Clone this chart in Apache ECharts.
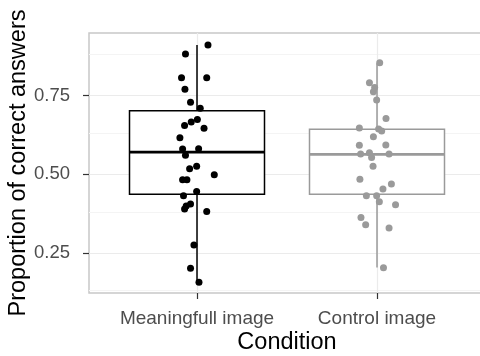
<!DOCTYPE html>
<html>
<head>
<meta charset="utf-8">
<script src="https://cdn.jsdelivr.net/npm/echarts@6/dist/echarts.min.js"></script>
<style>html,body{margin:0;padding:0;background:#fff}#c{width:480px;height:356px}</style>
</head>
<body>
<div id="c"></div>
<script>
var categories = ['Meaningfull image', 'Control image'];
var yTicks = [0.25, 0.5, 0.75];
var yMinor = [0.125, 0.375, 0.625, 0.875];

// jittered points: x position (category index 1/2 plus jitter), y value
var meaningX = [1.061, 0.936, 0.914, 1.054, 0.933, 0.964, 1.018, 1.002, 0.968, 0.931, 1.039, 0.905, 0.920, 1.009, 0.936, 0.998, 0.959, 0.920, 0.944, 1.096, 0.998, 0.925, 0.964, 0.940, 0.931, 1.054, 0.983, 0.964, 1.011];
var meaningY = [0.911, 0.882, 0.807, 0.807, 0.770, 0.729, 0.710, 0.674, 0.666, 0.655, 0.646, 0.616, 0.580, 0.581, 0.560, 0.525, 0.517, 0.482, 0.482, 0.498, 0.445, 0.431, 0.405, 0.399, 0.389, 0.381, 0.275, 0.201, 0.156];
var controlX = [2.015, 1.958, 1.987, 1.980, 1.998, 2.050, 1.902, 2.009, 2.026, 1.980, 1.902, 2.049, 1.909, 1.958, 1.970, 2.067, 1.978, 1.905, 2.080, 2.033, 1.941, 1.998, 2.013, 2.103, 1.911, 1.937, 2.067, 2.036];
var controlY = [0.854, 0.791, 0.776, 0.762, 0.736, 0.677, 0.647, 0.644, 0.637, 0.619, 0.592, 0.593, 0.564, 0.568, 0.553, 0.564, 0.525, 0.484, 0.469, 0.453, 0.431, 0.431, 0.412, 0.403, 0.362, 0.339, 0.329, 0.202];

// box stats: [lower whisker, Q1, median, Q3, upper whisker]
var meaningBox = [0.156, 0.436, 0.570, 0.702, 0.911];
var controlBox = [0.203, 0.436, 0.563, 0.643, 0.853];

var colors = ['#000000', '#9a9a9a'];

function zip(xs, ys) { return xs.map(function (x, i) { return [x, ys[i]]; }); }

var chart = echarts.init(document.getElementById('c'), null, {renderer: 'canvas'});
var font = 'Liberation Sans, Arial, Helvetica, sans-serif';

var boxData = [[1].concat(meaningBox).concat([0]), [2].concat(controlBox).concat([1])];

function renderBox(params, api) {
  var x = api.value(0), lo = api.value(1), q1 = api.value(2), med = api.value(3), q3 = api.value(4), hi = api.value(5);
  var col = colors[api.value(6)];
  var hw = 0.375;
  var pTL = api.coord([x - hw, q3]);
  var pBR = api.coord([x + hw, q1]);
  var pHi = api.coord([x, hi]);
  var pQ3 = api.coord([x, q3]);
  var pQ1 = api.coord([x, q1]);
  var pLo = api.coord([x, lo]);
  var pML = api.coord([x - hw, med]);
  var pMR = api.coord([x + hw, med]);
  return {
    type: 'group',
    children: [
      {type: 'line', shape: {x1: pHi[0], y1: pHi[1], x2: pQ3[0], y2: pQ3[1]}, style: {stroke: col, lineWidth: 1.5}},
      {type: 'line', shape: {x1: pQ1[0], y1: pQ1[1], x2: pLo[0], y2: pLo[1]}, style: {stroke: col, lineWidth: 1.5}},
      {type: 'rect', shape: {x: pTL[0], y: pTL[1], width: pBR[0] - pTL[0], height: pBR[1] - pTL[1]}, style: {fill: '#fff', stroke: col, lineWidth: 1.5}},
      {type: 'line', shape: {x1: pML[0], y1: pML[1], x2: pMR[0], y2: pMR[1]}, style: {stroke: col, lineWidth: 2.8}}
    ]
  };
}

var gridLines = [];
yMinor.forEach(function (v) { gridLines.push({yAxis: v, lineStyle: {color: '#f4f4f4', width: 1, type: 'solid'}}); });
yTicks.forEach(function (v) { gridLines.push({yAxis: v, lineStyle: {color: '#ebebeb', width: 1.2, type: 'solid'}}); });
[1, 2].forEach(function (v) { gridLines.push({xAxis: v, lineStyle: {color: '#ebebeb', width: 1.2, type: 'solid'}}); });

chart.setOption({
  animation: false,
  backgroundColor: '#fff',
  grid: {left: 89, right: -5, top: 33, bottom: 63, containLabel: false, outerBoundsMode: 'none',
    show: true, borderColor: '#c8c8c8', borderWidth: 1.5, backgroundColor: 'transparent'},
  xAxis: {
    type: 'value', min: 0.4, max: 2.6,
    name: 'Condition', nameLocation: 'middle', nameGap: 38, nameMoveOverlap: false,
    nameTextStyle: {fontFamily: font, fontSize: 23.5, color: '#000'},
    axisLine: {show: false},
    splitLine: {show: false},
    axisTick: {show: true, customValues: [1, 2], length: 6, lineStyle: {color: '#333', width: 1.2}},
    axisLabel: {customValues: [1, 2], margin: 16, fontFamily: font, fontSize: 19, color: '#4d4d4d',
      formatter: function (v) { return categories[Math.round(v) - 1]; }}
  },
  yAxis: {
    type: 'value', min: 0.122, max: 0.949,
    name: 'Proportion of correct answers', nameLocation: 'middle', nameGap: 58, nameMoveOverlap: false,
    nameTextStyle: {fontFamily: font, fontSize: 23.5, color: '#000'},
    axisLine: {show: false},
    splitLine: {show: false},
    axisTick: {show: true, customValues: yTicks, length: 6, lineStyle: {color: '#333', width: 1.2}},
    axisLabel: {customValues: yTicks, margin: 19, fontFamily: font, fontSize: 18.5, color: '#4d4d4d',
      formatter: function (v) { return v.toFixed(2); }}
  },
  series: [
    {type: 'scatter', data: [], z: 1, silent: true,
      markLine: {z: 1, silent: true, symbol: ['none', 'none'], label: {show: false}, animation: false, data: gridLines}},
    {type: 'custom', renderItem: renderBox, data: boxData, z: 2, encode: {x: 0, y: [1, 5]}},
    {type: 'scatter', data: zip(meaningX, meaningY), symbolSize: 7, itemStyle: {color: colors[0], opacity: 1}, z: 3},
    {type: 'scatter', data: zip(controlX, controlY), symbolSize: 7, itemStyle: {color: colors[1], opacity: 1}, z: 3}
  ]
});
</script>
</body>
</html>
